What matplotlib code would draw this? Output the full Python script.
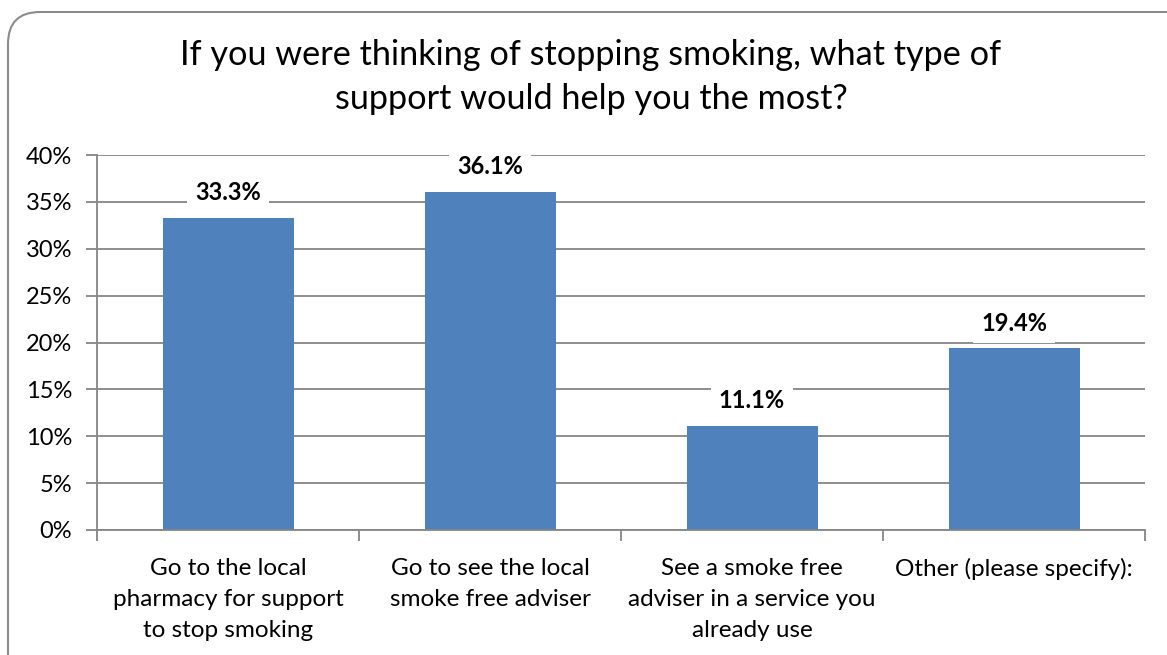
import matplotlib.pyplot as plt
from matplotlib.patches import FancyBboxPatch
from matplotlib.ticker import FixedLocator, PercentFormatter

plt.rcParams['font.family'] = ['Lato', 'DejaVu Sans']

title = 'If you were thinking of stopping smoking, what type of\nsupport would help you the most?'
categories = ['Go to the local\npharmacy for support\nto stop smoking',
              'Go to see the local\nsmoke free adviser',
              'See a smoke free\nadviser in a service you\nalready use',
              'Other (please specify):']
values = [33.3, 36.1, 11.1, 19.4]

grid_col = '#868686'
bar_col = '#4F81BD'

fig = plt.figure(figsize=(11.67, 6.55), dpi=100)
ax = fig.add_axes([97 / 1167, 125 / 655, 1048 / 1167, 375 / 655])

x = list(range(len(categories)))
ax.bar(x, values, width=0.5, color=bar_col, zorder=2)

ax.set_xlim(-0.5, len(categories) - 0.5)
ax.set_ylim(0, 40)
ax.set_yticks(range(0, 41, 5))
ax.yaxis.set_major_formatter(PercentFormatter(decimals=0))
ax.yaxis.grid(True, color=grid_col, linewidth=1.3, zorder=0)
ax.set_axisbelow(True)

# category boundaries carry the ticks, labels sit in the middle
ax.xaxis.set_major_locator(FixedLocator([i - 0.5 for i in range(len(categories) + 1)]))
ax.xaxis.set_major_formatter(plt.NullFormatter())
ax.set_xticks(x, minor=True)
ax.set_xticklabels(categories, minor=True, fontsize=17.5, linespacing=1.6)
ax.tick_params(axis='x', which='minor', length=0, pad=20)
ax.tick_params(axis='x', which='major', length=8, width=1.3, color=grid_col, direction='out')
ax.tick_params(axis='y', length=8, width=1.3, color=grid_col, labelsize=17, pad=10)

for s in ['top', 'right']:
    ax.spines[s].set_visible(False)
for s in ['left', 'bottom']:
    ax.spines[s].set_color(grid_col)
    ax.spines[s].set_linewidth(1.3)

for xi, v in zip(x, values):
    ax.annotate(f'{v:.1f}%', (xi, v), xytext=(0, 18), textcoords='offset points',
                ha='center', va='center', fontsize=17, fontweight='bold',
                bbox=dict(boxstyle='square,pad=0.35', fc='white', ec='none'), zorder=3)

fig.text(591 / 1167, 1 - 77 / 655, title, ha='center', va='center',
         fontsize=24.7, linespacing=1.45)

# rounded chart-area border
frame = FancyBboxPatch((8, -40), 1220, 683, boxstyle='round,pad=0,rounding_size=32',
                       transform=None, fc='none', ec='#8c8c8c', lw=1.5)
fig.patches.append(frame)

fig.savefig('out.png', dpi=100)
plt.close(fig)
